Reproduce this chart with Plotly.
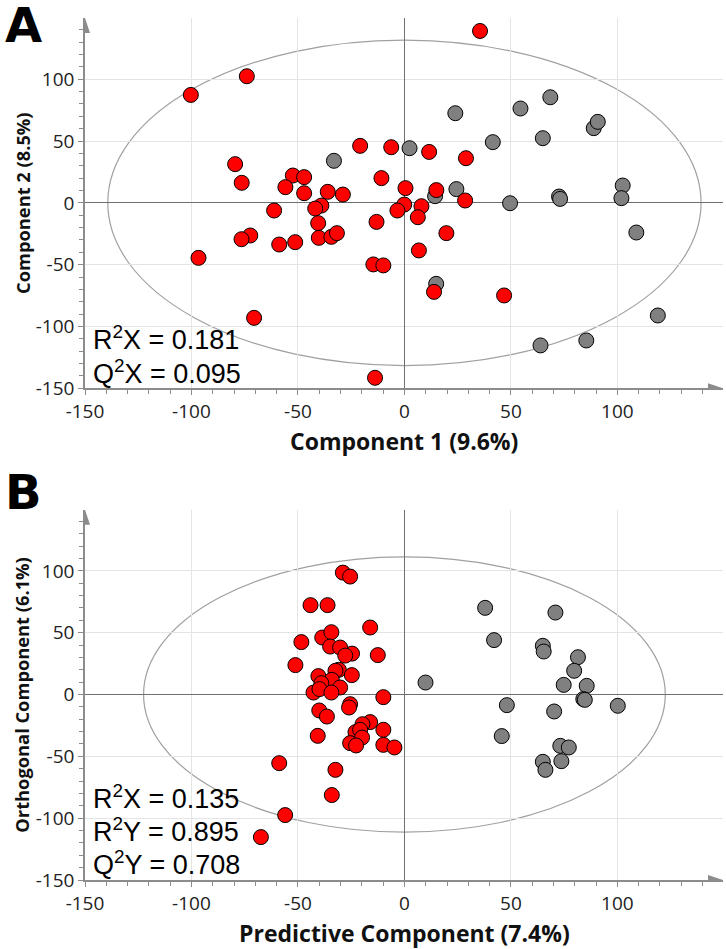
import plotly.graph_objects as go
from plotly.subplots import make_subplots

# ---- panel A: PCA scores ----
a_red_x = [-20.8, -6.2, 11.6, 28.9, -79.5, -76.4, -52.4, -47.1, -55.9, -47.1, -36.0, -28.9,
           -10.8, 0.5, 15.0, 28.5, -61.2, -39.0, -41.9, -0.1, -3.3, 8.0, 6.3, -13.1, -40.5,
           -72.4, -76.5, -58.8, -51.3, -40.2, -34.3, -31.7, 19.7, -96.7, 6.8, -14.6, -9.9,
           13.9, -70.6, -100.3, -74.0, 35.5, 46.8, -13.8]
a_red_y = [46.1, 45.0, 41.2, 36.1, 31.3, 16.2, 22.1, 20.8, 12.7, 7.8, 8.9, 6.7,
           20.0, 11.9, 10.3, 1.9, -6.2, -2.2, -4.6, -1.4, -6.2, -2.7, -11.6, -15.4, -16.4,
           -26.4, -29.4, -33.7, -31.8, -28.3, -27.5, -24.5, -24.5, -44.5, -38.5, -49.8, -50.6,
           -72.0, -93.0, 87.3, 102.4, 139.0, -74.9, -141.5]
a_gray_x = [-33.1, 2.4, 14.4, 24.4, 14.9, 23.9, 54.5, 68.5, 41.5, 65.0, 88.9, 90.8,
            49.6, 72.6, 73.1, 102.5, 101.9, 108.9, 119.0, 63.9, 85.4]
a_gray_y = [34.0, 44.2, 5.4, 11.1, -65.5, 72.5, 76.3, 85.4, 49.1, 52.3, 60.4, 65.5,
            -0.3, 5.1, 3.2, 14.0, 3.8, -24.0, -91.1, -115.3, -111.3]
a_ellipse = (139.3, 131.6)
a_stats = ["R<sup>2</sup>X = 0.181", "Q<sup>2</sup>X = 0.095"]

# ---- panel B: OPLS-DA scores ----
b_red_x = [-28.9, -25.5, -44.1, -36.1, -16.1, -38.6, -34.3, -48.4, -34.9, -30.2, -24.6, -27.8,
           -12.5, -51.2, -30.8, -32.4, -24.7, -40.4, -34.1, -39.0, -30.2, -42.7, -39.9, -34.3,
           -9.9, -25.5, -26.0, -40.0, -36.4, -16.1, -19.7, -9.9, -23.0, -20.8, -19.9, -40.7,
           -25.5, -22.7, -9.9, -4.7, -58.8, -32.4, -34.1, -56.0, -67.4]
b_red_y = [98.6, 95.4, 72.3, 72.3, 54.2, 46.1, 50.4, 42.4, 38.8, 38.0, 33.1, 31.5,
           31.9, 23.8, 20.0, 19.2, 15.7, 14.9, 11.9, 9.2, 5.7, 1.6, 4.4, 1.6,
           -2.1, -7.8, -10.5, -12.9, -17.8, -22.3, -24.0, -28.5, -30.4, -28.5, -34.8, -33.4,
           -39.3, -41.2, -40.7, -42.8, -55.5, -60.9, -81.3, -97.5, -115.3]
b_gray_x = [37.9, 70.9, 42.1, 65.0, 65.4, 81.5, 79.7, 9.9, 74.8, 85.6, 84.0, 84.7,
            48.1, 100.2, 70.3, 45.7, 73.2, 77.2, 73.7, 65.0, 66.2]
b_gray_y = [70.1, 66.3, 44.0, 39.4, 34.8, 30.2, 19.2, 9.7, 7.8, 7.0, -3.7, -4.3,
            -8.6, -9.1, -13.7, -33.6, -41.5, -42.8, -53.9, -54.4, -60.9]
b_ellipse = (122.5, 111.3)
b_stats = ["R<sup>2</sup>X = 0.135", "R<sup>2</sup>Y = 0.895", "Q<sup>2</sup>Y = 0.708"]

tick_vals = [-150, -100, -50, 0, 50, 100]
tick_text = ['-150', '-100', '-50', '0', '50', '100']

AXIS_GRAY = '#8c8c8c'
TICK_FONT = dict(family='Open Sans, Noto Sans, sans-serif', size=19, color='#222')

fig = make_subplots(rows=2, cols=1, vertical_spacing=0.14)

panels = [
    (1, a_gray_x, a_gray_y, a_red_x, a_red_y, a_ellipse),
    (2, b_gray_x, b_gray_y, b_red_x, b_red_y, b_ellipse),
]
for row, gx, gy, rx, ry, ell in panels:
    fig.add_trace(go.Scatter(x=gx, y=gy, mode='markers', cliponaxis=False,
                             marker=dict(size=15, color='#808080',
                                         line=dict(color='#000', width=1))),
                  row=row, col=1)
    fig.add_trace(go.Scatter(x=rx, y=ry, mode='markers', cliponaxis=False,
                             marker=dict(size=15, color='#ff0000',
                                         line=dict(color='#000', width=1))),
                  row=row, col=1)
    xr = 'x' if row == 1 else 'x2'
    yr = 'y' if row == 1 else 'y2'
    fig.add_shape(type='circle', xref=xr, yref=yr, x0=-ell[0], x1=ell[0],
                  y0=-ell[1], y1=ell[1], line=dict(color='#a0a0a0', width=1.2),
                  layer='below')
    # arrow heads at the ends of the axes (pixel-sized triangles)
    fig.add_shape(type='path', xref=xr, yref=yr, xsizemode='pixel', ysizemode='pixel',
                  xanchor=149.6, yanchor=-150, path='M -15 -5 L 0 0 L -15 5 Z',
                  fillcolor=AXIS_GRAY, line=dict(width=0))
    fig.add_shape(type='path', xref=xr, yref=yr, xsizemode='pixel', ysizemode='pixel',
                  xanchor=-150, yanchor=149.5, path='M -5 -15 L 0 0 L 5 -15 Z',
                  fillcolor=AXIS_GRAY, line=dict(width=0))

axis_common = dict(
    tickvals=tick_vals, ticktext=tick_text, tickfont=TICK_FONT,
    showgrid=True, gridcolor='#e4e4e4', gridwidth=1,
    zeroline=True, zerolinecolor='#707070', zerolinewidth=1.2,
    showline=True, linecolor=AXIS_GRAY, linewidth=1.5,
    ticks='outside', ticklen=5, tickcolor=AXIS_GRAY, tickwidth=1,
    minor=dict(dtick=10, tick0=0, ticklen=4, tickcolor=AXIS_GRAY, showgrid=False),
    fixedrange=True,
)

fig.update_xaxes(range=[-150, 149.6], **axis_common)
fig.update_yaxes(range=[-150, 149.5], **axis_common)
fig.update_layout(
    yaxis=dict(domain=[0.5704, 1.0]),
    yaxis2=dict(domain=[0.0, 0.4296]),
)

# axis titles, panel letters and fit statistics
TXT = dict(family='Liberation Sans, Arial, sans-serif', size=27, color='#000')
XT_FONT = dict(family='Open Sans, Noto Sans, sans-serif', size=23, color='#111')
YT_FONT = dict(family='Open Sans, Noto Sans, sans-serif', size=18.3, color='#111')
LETTER_FONT = dict(family='DejaVu Sans, sans-serif', size=48, color='#000')
titles = [
    ('Component 1 (9.6%)', 'Component 2 (8.5%)', 'A', 0.982, a_stats, 'y'),
    ('Predictive Component (7.4%)', 'Orthogonal Component (6.1%)', 'B', 1.047, b_stats, 'y2'),
]
for xt, yt, letter, ly, stats, yr in titles:
    fig.add_annotation(text='<b>%s</b>' % xt, xref='x domain', yref='%s domain' % yr,
                       x=0.5, y=-0.142, xanchor='center', yanchor='middle',
                       showarrow=False, font=XT_FONT)
    fig.add_annotation(text='<b>%s</b>' % yt, xref='paper', yref='%s domain' % yr,
                       x=-0.099, y=0.5, xanchor='center', yanchor='middle',
                       textangle=-90, showarrow=False, font=YT_FONT)
    fig.add_annotation(text='<b>%s</b>' % letter, xref='paper', yref='%s domain' % yr,
                       x=-0.129, y=ly, xanchor='left', yanchor='middle',
                       showarrow=False, font=LETTER_FONT)
    n = len(stats)
    for i, s in enumerate(stats):
        fig.add_annotation(text=s, xref='x domain', yref='%s domain' % yr,
                           x=0.01, y=-0.006 + (n - 1 - i) * 0.09, xanchor='left',
                           yanchor='bottom', showarrow=False, font=TXT)

fig.update_layout(
    width=726, height=949,
    margin=dict(l=85, r=3, t=18, b=68.5),
    paper_bgcolor='white', plot_bgcolor='white',
    showlegend=False,
)

fig.write_html("out.html", config={'displayModeBar': False},
               post_script="document.body.style.margin='0';")
